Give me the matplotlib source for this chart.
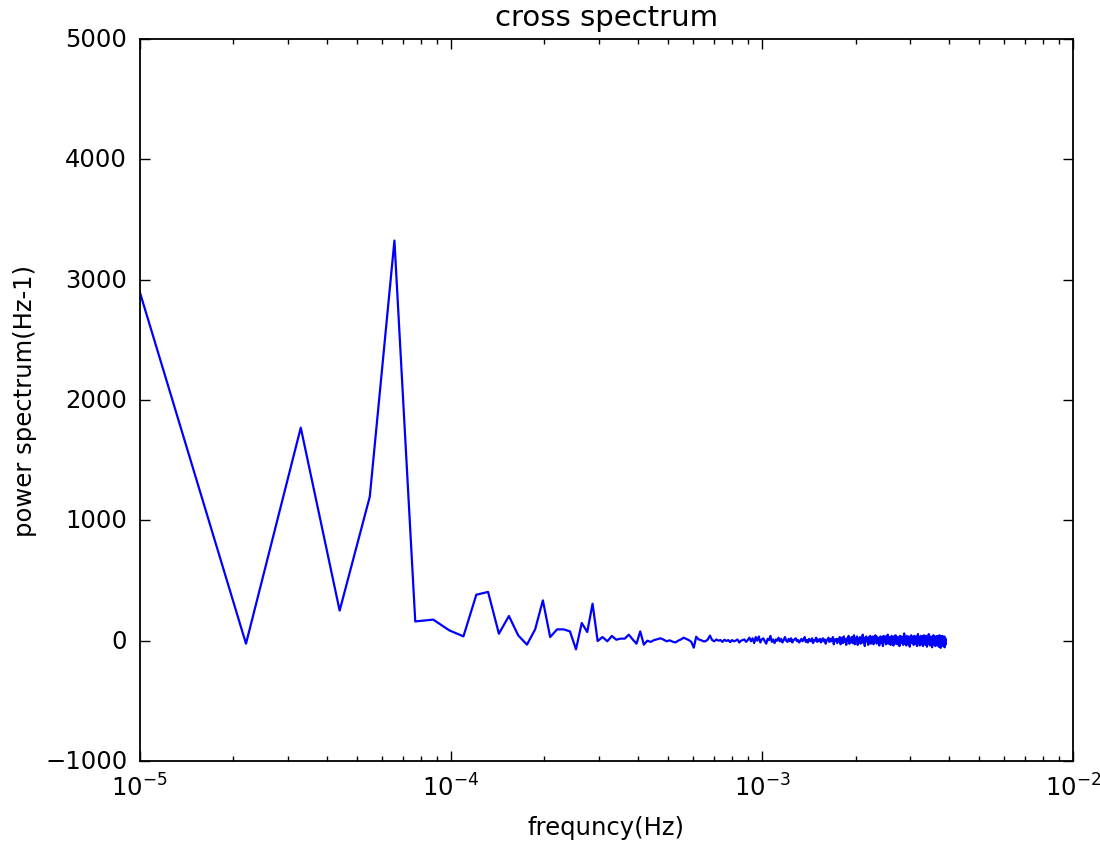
import numpy as np
import matplotlib
matplotlib.use("Agg")
import matplotlib.pyplot as plt

plt.style.use("classic")

# frequency resolution of the spectrum (Hz)
df = 1.098e-5

# low-frequency part, bins 2..39 (first value is where the line enters the axes at 1e-5 Hz)
first_freq = 1.0e-5
first_val = 2900
low_vals = [
    -25, 1770, 250, 1197, 3325, 160, 175, 86, 36, 382,
    405, 58, 205, 44, -33, 94, 335, 30, 94, 94,
    77, -72, 147, 72, 307, -3, 30, -5, 39, 8,
    17, 17, 50, 10, -25, 77, -33, 0,
]

# noisy high-frequency part, bins 40..355
high_vals = [
    -10, 5, 12, 20, 8, -5, 3, -8, -15, 0, 10, 25, 15, 5, -10, -58, 33, 10, 5, -5,
    -5, 10, 42, 5, -5, 10, 0, 5, -10, 8, -3, 5, -12, 5, -5, 0, 10, -15, 0, 5,
    10, -10, 5, 25, -5, 20, -20, 30, 0, 35, -15, 10, 20, -5, -25, 15, 5, 40, -10, 10,
    -20, 10, 0, 25, -5, 15, -15, 5, 30, 0, -10, 15, -5, 20, -15, 5, 10, 20, -5, 5,
    -15, 0, 15, -5, 10, 30, -10, 5, -15, 15, 0, -5, 20, -20, 5, 0, 25, -10, 10, -5,
    15, -15, 5, 20, -5, 10, -25, 0, 10, 25, -10, 15, -5, 5, 30, -30, 10, 0, 15, -20,
    15, -5, 30, -30, 5, 25, -20, 35, -10, 10, -35, 20, 0, 40, -25, 15, -5, 30, -20, 10,
    45, -30, 20, 0, 35, -35, 15, -10, 30, -25, 20, 5, 50, -20, 25, -45, 10, 35, -5, 20,
    -35, 30, 5, 40, -25, 20, -5, 35, -30, 25, -10, 45, 10, -25, 30, -5, 20, -40, 15, 35,
    -20, 25, 5, -45, 40, 10, -10, 35, -30, 20, 0, 50, -25, 25, -5, 30, -35, 15, 40, -10,
    20, -40, 35, 5, -25, 45, 0, 25, -30, 30, -5, 20, -45, 40, 10, -20, 35, -10, 25, -35,
    15, 60, -25, 30, 0, -40, 40, 5, 20, -30, 35, -5, -50, 25, 10, 45, -20, 20, -10, 30,
    -35, 40, 0, 25, -25, 35, -5, -45, 20, 55, -15, 15, 30, -40, 5, 40, -30, 25, -10, 35,
    -45, 20, 45, -20, 10, 30, -35, 40, 0, -50, 25, 15, -25, 55, -5, 30, -40, 20, 35, -15,
    15, -55, 30, 5, 45, -30, 20, -10, 35, -45, 25, 10, -35, 40, 0, -25, 30, -50, 20, 45,
    -20, 25, -60, 35, 0, -40, 40, 10, -45, 20, -5, 35, -55, 25, -35, 10,
]

power = np.array([first_val] + low_vals + high_vals, dtype=float)
n_bins = len(low_vals) + len(high_vals)
freq = np.concatenate([[first_freq], df * np.arange(2, 2 + n_bins)])

fig = plt.figure(figsize=(11, 8.45), dpi=100)
fig.subplots_adjust(left=0.127, right=0.9755, top=0.9527, bottom=0.0982)
ax = fig.add_subplot(111)

ax.plot(freq, power, color="b", lw=1.6)
ax.set_xscale("log")
ax.set_xlim(1e-5, 1e-2)
ax.set_ylim(-1000, 5000)

ax.set_title("cross spectrum", fontsize=21, pad=10)
ax.set_xlabel("frequncy(Hz)", fontsize=17.5, labelpad=10)
ax.set_ylabel("power spectrum(Hz-1)", fontsize=17.5, labelpad=6)
ax.tick_params(labelsize=17.5, pad=9)
ax.tick_params(which="major", length=7, width=1)
ax.tick_params(which="minor", length=3.5, width=1)
for sp in ax.spines.values():
    sp.set_linewidth(1.3)

fig.savefig("out.png", dpi=100)
